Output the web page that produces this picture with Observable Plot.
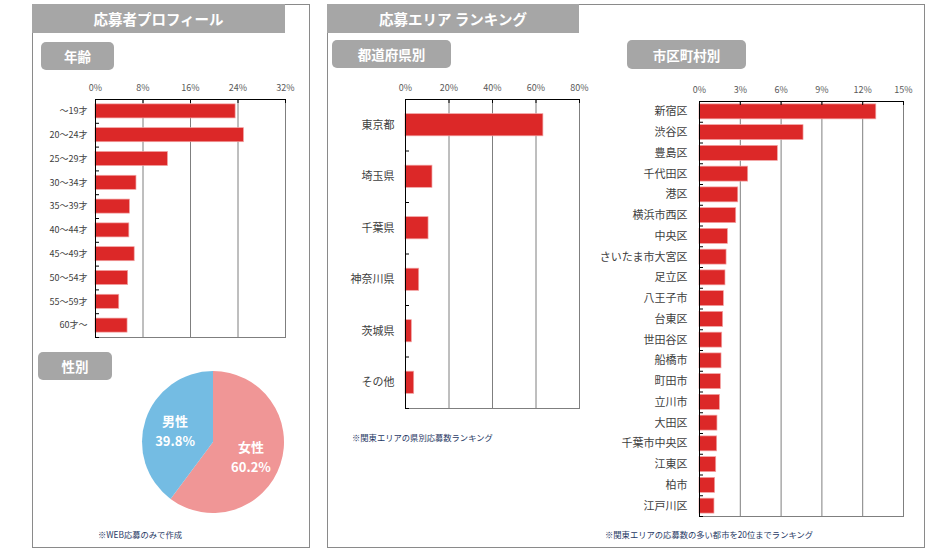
<!DOCTYPE html>
<html><head><meta charset="utf-8">
<script src="https://cdn.jsdelivr.net/npm/d3@7"></script>
<script src="https://cdn.jsdelivr.net/npm/@observablehq/plot@0.6"></script>
<style>
body{margin:0;background:#fff;font-family:"Noto Sans CJK JP",sans-serif;}
#root{position:relative;width:951px;height:550px;overflow:hidden;background:#fff;}
.panel{position:absolute;border:1px solid #8a8a8a;box-sizing:border-box;}
.titlebar{position:absolute;background:#a6a6a6;color:#fff;font-weight:bold;font-size:14.5px;display:flex;align-items:center;justify-content:center;}
.btn{position:absolute;background:#a6a6a6;color:#fff;font-weight:bold;font-size:13.5px;border-radius:5px;display:flex;align-items:center;justify-content:center;}
.note{position:absolute;font-size:8.3px;color:#1f3864;white-space:nowrap;line-height:1;}
.chart{position:absolute;}
</style></head>
<body><div id="root"></div>
<script>
// ---------------- data ----------------
const ageGroups = ["～19才","20～24才","25～29才","30～34才","35～39才","40～44才","45～49才","50～54才","55～59才","60才～"];
const ageShares = [23.6, 25.0, 12.2, 6.9, 5.8, 5.7, 6.6, 5.5, 4.0, 5.4];
const ageTicks = [0, 8, 16, 24, 32];

const genders = ["女性", "男性"];
const genderShares = [60.2, 39.8];
const genderColors = ["#F09696", "#74BCE3"];

const prefectures = ["東京都","埼玉県","千葉県","神奈川県","茨城県","その他"];
const prefShares = [63.4, 12.4, 10.6, 6.3, 2.9, 4.0];
const prefTicks = [0, 20, 40, 60, 80];

const cities = ["新宿区","渋谷区","豊島区","千代田区","港区","横浜市西区","中央区","さいたま市大宮区","足立区","八王子市","台東区","世田谷区","船橋市","町田市","立川市","大田区","千葉市中央区","江東区","柏市","江戸川区"];
const cityShares = [13.0, 7.65, 5.76, 3.58, 2.85, 2.70, 2.09, 1.99, 1.91, 1.79, 1.74, 1.67, 1.62, 1.57, 1.50, 1.32, 1.30, 1.23, 1.15, 1.10];
const cityTicks = [0, 3, 6, 9, 12, 15];

const texts = {
  leftTitle: "応募者プロフィール",
  rightTitle: "応募エリア ランキング",
  ageBtn: "年齢", genderBtn: "性別", prefBtn: "都道府県別", cityBtn: "市区町村別",
  noteWeb: "※WEB応募のみで作成",
  notePref: "※関東エリアの県別応募数ランキング",
  noteCity: "※関東エリアの応募数の多い都市を20位までランキング"
};

// ---------------- layout helpers ----------------
const FONT = '"Noto Sans CJK JP", sans-serif';
const root = document.getElementById("root");
function box(cls, x, y, w, h, text) {
  const d = document.createElement("div");
  d.className = cls;
  Object.assign(d.style, {left: x + "px", top: y + "px"});
  if (w != null) d.style.width = w + "px";
  if (h != null) d.style.height = h + "px";
  if (text) d.textContent = text;
  root.appendChild(d);
  return d;
}
function place(node, x, y) {
  node.classList.add("chart");
  node.style.left = x + "px"; node.style.top = y + "px";
  root.appendChild(node);
}

box("panel", 32, 4, 278, 544);
box("panel", 327, 4, 598, 544);
box("titlebar", 32, 4, 253, 29, texts.leftTitle);
box("titlebar", 327, 4, 252, 29, texts.rightTitle);
box("btn", 41, 42, 73, 28, texts.ageBtn);
box("btn", 38, 352, 74, 28, texts.genderBtn);
box("btn", 332, 40, 119, 28, texts.prefBtn);
box("btn", 627, 40, 119, 29, texts.cityBtn);

// ---------------- bar charts ----------------
function rankChart({cats, vals, ticks, width, height, ml, mr, mt, mb, pad, labelSize, tickPadding}) {
  const innerH = height - mt - mb, innerW = width - ml - mr;
  const step = innerH / cats.length;
  return Plot.plot({
    width, height, marginLeft: ml, marginRight: mr, marginTop: mt, marginBottom: mb,
    style: {fontFamily: FONT, fontSize: labelSize + "px", color: "#404040", background: "transparent", overflow: "visible"},
    x: {domain: [ticks[0], ticks[ticks.length - 1]], label: null},
    y: {domain: cats, paddingInner: pad, paddingOuter: pad / 2, round: false, label: null},
    marks: [
      Plot.gridX(ticks, {stroke: "#7f7f7f", strokeOpacity: 1}),
      Plot.barX(cats, {y: d => d, x: (d, i) => vals[i], fill: "#DC2828", stroke: "#F2A2A2", strokeWidth: 0.7}),
      Plot.axisX(ticks, {anchor: "top", tickSize: 0, tickPadding: 9, tickFormat: d => d + "%", fontSize: 9, fill: "#595959", label: null}),
      Plot.axisY({tickSize: 0, tickPadding, label: null, fontSize: labelSize, fill: "#404040"}),
      Plot.frame({anchor: "bottom", stroke: "#7f7f7f"}),
      Plot.frame({anchor: "top", stroke: "#000"}),
      Plot.frame({anchor: "left", stroke: "#000"}),
      Plot.ruleX(ticks, {x: d => d, stroke: "#000", insetBottom: innerH - 4}),
      Plot.ruleY(cats, {y: d => d, dy: step / 2, stroke: "#000", insetRight: innerW - 4})
    ]
  });
}

place(rankChart({cats: ageGroups, vals: ageShares, ticks: ageTicks, width: 265, height: 261,
  ml: 55, mr: 20, mt: 20, mb: 3, pad: 0.41, labelSize: 9, tickPadding: 8}), 40, 79);

place(rankChart({cats: prefectures, vals: prefShares, ticks: prefTicks, width: 264, height: 332,
  ml: 70, mr: 20, mt: 20, mb: 3, pad: 0.57, labelSize: 11, tickPadding: 11}), 335, 79);

place(rankChart({cats: cities, vals: cityShares, ticks: cityTicks, width: 334, height: 440,
  ml: 110, mr: 20, mt: 22, mb: 3, pad: 0.28, labelSize: 11, tickPadding: 12}), 589, 79);

// ---------------- pie chart ----------------
function pieMark(index, scales, values, dimensions) {
  const {width, height} = dimensions;
  const r = 71;
  const arcs = d3.pie().sort(null).value((d, i) => genderShares[i])(genders);
  const arc = d3.arc().innerRadius(0).outerRadius(r);
  const labelArc = d3.arc().innerRadius(0).outerRadius(80);
  const g = d3.create("svg:g").attr("transform", `translate(${width / 2},${height / 2})`);
  g.selectAll("path").data(arcs).join("path")
    .attr("d", arc).attr("fill", (d, i) => genderColors[i]);
  const t = g.selectAll("text").data(arcs).join("text")
    .attr("transform", d => `translate(${labelArc.centroid(d)})`)
    .attr("fill", "#fff").attr("font-weight", "bold").attr("font-size", 13)
    .attr("font-family", FONT).attr("text-anchor", "middle");
  t.append("tspan").attr("x", 0).attr("y", -3).text(d => d.data);
  t.append("tspan").attr("x", 0).attr("y", 17).text((d, i) => genderShares[i].toFixed(1) + "%");
  return g.node();
}
place(Plot.plot({width: 180, height: 160, margin: 0, style: {background: "transparent", overflow: "visible"},
  marks: [pieMark]}), 123, 362);

// ---------------- notes ----------------
box("note", 98, 530, null, null, texts.noteWeb);
box("note", 352, 433, null, null, texts.notePref);
box("note", 605, 530, null, null, texts.noteCity);
</script>
</body></html>
